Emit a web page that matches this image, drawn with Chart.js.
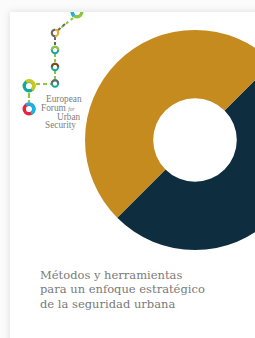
<!DOCTYPE html>
<html><head><meta charset="utf-8">
<script src="https://cdn.jsdelivr.net/npm/chart.js@4"></script>
<style>
html,body{margin:0;padding:0;width:255px;height:338px;overflow:hidden;background:#fbfbfb;}
#page{position:absolute;left:10px;top:12px;width:300px;height:400px;background:#fff;box-shadow:0 0 7px rgba(0,0,0,0.13);}
#chartBox{position:absolute;left:85px;top:30px;width:220px;height:220px;}
#logo{position:absolute;left:0;top:0;clip-path:inset(12px 0 0 10px);}
.efus{position:absolute;font-family:"Liberation Serif","DejaVu Serif",serif;color:#7d7d7d;font-size:9.3px;line-height:1;white-space:nowrap;}
#title{position:absolute;left:40px;top:268px;font-family:"DejaVu Serif","Liberation Serif",serif;color:#7a7a7a;font-size:11.5px;line-height:14.3px;white-space:nowrap;}
</style></head>
<body>
<div id="page"></div>
<svg id="logo" width="100" height="140" viewBox="0 0 100 140">
  <g fill="none" stroke-linecap="butt">
    <line x1="73" y1="18" x2="57" y2="31" stroke="#8cc63f" stroke-width="2" stroke-dasharray="3 3"/>
    <line x1="65" y1="24" x2="57" y2="31" stroke="#666" stroke-width="2" stroke-dasharray="3 3"/>
    <line x1="55" y1="37" x2="55" y2="46" stroke="#666" stroke-width="2" stroke-dasharray="3 2"/>
    <line x1="55" y1="54" x2="55" y2="63" stroke="#8cc63f" stroke-width="2" stroke-dasharray="3 2"/>
    <line x1="55" y1="71" x2="55" y2="79" stroke="#8cc63f" stroke-width="2" stroke-dasharray="3 2"/>
    <line x1="36" y1="84" x2="51" y2="84" stroke="#8cc63f" stroke-width="2.2" stroke-dasharray="4 3"/>
    <line x1="29" y1="93" x2="29" y2="102" stroke="#8cc63f" stroke-width="2.2" stroke-dasharray="5 2"/>
  </g>
  <g fill="none">
    <circle cx="77" cy="12" r="4.8" stroke="#8cc63f" stroke-width="3.4"/>
    <path d="M72.2 12 A4.8 4.8 0 0 0 74 15.8" stroke="#1db0e6" stroke-width="3.4"/>
    <circle cx="55" cy="33" r="3.2" stroke="#f5a623" stroke-width="2"/>
    <path d="M51.8 33 A3.2 3.2 0 0 1 55 29.8" stroke="#666" stroke-width="2"/>
    <path d="M55 36.2 A3.2 3.2 0 0 1 51.8 33" stroke="#666" stroke-width="2"/>
    <circle cx="55" cy="50" r="3.2" stroke="#14a79a" stroke-width="2"/>
    <path d="M51.8 50 A3.2 3.2 0 0 1 58.2 50" stroke="#8cc63f" stroke-width="2"/>
    <circle cx="55" cy="67" r="3.2" stroke="#14a79a" stroke-width="2"/>
    <path d="M51.8 67 A3.2 3.2 0 0 1 58.2 67" stroke="#8b4513" stroke-width="2"/>
    <circle cx="55" cy="83.5" r="3.2" stroke="#14a79a" stroke-width="2"/>
    <path d="M51.8 83.5 A3.2 3.2 0 0 1 58.2 83.5" stroke="#666" stroke-width="2"/>
    <circle cx="29" cy="86" r="4.8" stroke="#14a79a" stroke-width="3.4"/>
    <path d="M26 81.8 A4.8 4.8 0 0 1 33.8 86 A4.8 4.8 0 0 1 32 90" stroke="#c7c920" stroke-width="3.4"/>
    <circle cx="29" cy="109" r="4.8" stroke="#e8223a" stroke-width="3.4"/>
    <path d="M26 105 A4.8 4.8 0 0 1 33.8 109 A4.8 4.8 0 0 1 31 113.5" stroke="#1ab0e8" stroke-width="3.4"/>
  </g>
</svg>
<div class="efus" style="left:46px;top:95px;">European</div>
<div class="efus" style="left:41px;top:104px;">Forum <i style="font-size:5.5px">for</i></div>
<div class="efus" style="left:57px;top:113px;">Urban</div>
<div class="efus" style="left:45px;top:121px;">Security</div>
<div id="title">Métodos y herramientas<br>para un enfoque estratégico<br>de la seguridad urbana</div>
<div id="chartBox"><canvas id="c" width="220" height="220"></canvas></div>
<script>
const categories = ['Segmento A', 'Segmento B'];
const values = [50, 50];
const colors = ['#0e2e40', '#c58b1f'];
new Chart(document.getElementById('c'), {
  type: 'doughnut',
  data: { labels: categories, datasets: [{ data: values, backgroundColor: colors, borderWidth: 0, hoverOffset: 0 }] },
  options: {
    responsive: false, animation: false, rotation: 45, cutout: '38%',
    layout: { padding: 0 },
    plugins: { legend: { display: false }, tooltip: { enabled: false } }
  }
});
</script>
</body></html>
